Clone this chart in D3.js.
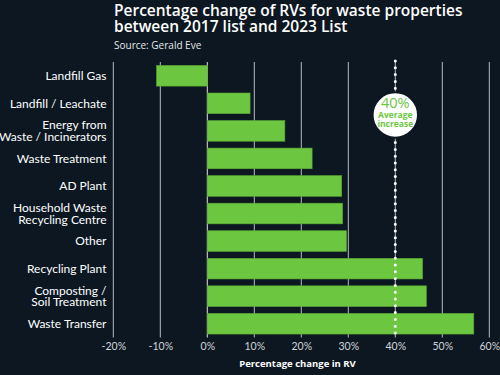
<!DOCTYPE html>
<html><head><meta charset="utf-8">
<script src="https://cdn.jsdelivr.net/npm/d3@7"></script>
<style>html,body{margin:0;padding:0;background:#0c1722;}svg{display:block;}</style>
</head><body>
<svg id="c" width="500" height="375"></svg>
<script>
const categories = [["Landfill Gas"],["Landfill / Leachate"],["Energy from","Waste / Incinerators"],["Waste Treatment"],["AD Plant"],["Household Waste","Recycling Centre"],["Other"],["Recycling Plant"],["Composting /","Soil Treatment"],["Waste Transfer"]];
const values = [-10.8, 9.1, 16.5, 22.3, 28.6, 28.8, 29.6, 45.8, 46.6, 56.7];
const ticks = [-20,-10,0,10,20,30,40,50,60];
const average = 40;

const svg = d3.select("#c");
const bg = "#0c1722", green = "#6cc63f";
svg.append("rect").attr("width",500).attr("height",375).attr("fill",bg);

const x = d3.scaleLinear().domain([-20,60]).range([113.3,489.3]);
const y = d3.scaleBand().domain(d3.range(categories.length)).range([62,337.5]).padding(0.25).paddingOuter(0.125);

// gridlines
svg.append("g").selectAll("line").data(ticks).join("line")
  .attr("x1",d=>x(d)).attr("x2",d=>x(d)).attr("y1",62).attr("y2",337.5)
  .attr("stroke",d=>d===0?"#e0e0e0":"#b8bcc2").attr("stroke-width",1);

// bars
svg.append("g").selectAll("rect").data(values).join("rect")
  .attr("x",d=>x(Math.min(0,d))).attr("width",d=>Math.abs(x(d)-x(0)))
  .attr("y",(d,i)=>y(i)).attr("height",y.bandwidth())
  .attr("fill",green).attr("stroke","#5aa832").attr("stroke-width",0.6);

// axis tick labels
const ax = d3.axisBottom(x).tickValues(ticks).tickFormat(d=>d+"%").tickSize(0).tickPadding(0);
const gx = svg.append("g").attr("transform","translate(0,343)").call(ax);
gx.select(".domain").remove();
gx.selectAll("text").attr("fill","#d2d5d9").attr("font-family","Lato, 'Open Sans', sans-serif").attr("font-size",10.5).attr("dy","0.71em");

svg.append("text").attr("x",297.5).attr("y",366.5).attr("text-anchor","middle")
  .attr("fill","#ffffff").attr("font-family","'Open Sans', sans-serif").attr("font-weight","bold").attr("font-size",9.5)
  .text("Percentage change in RV");

// category labels
const gl = svg.append("g");
categories.forEach((lines,i)=>{
  const cy = y(i)+y.bandwidth()/2;
  const t = gl.append("text").attr("x",106.5).attr("text-anchor","end")
    .attr("fill","#ffffff").attr("font-family","Lato, sans-serif").attr("font-size",12);
  const n = lines.length;
  lines.forEach((l,k)=>{
    t.append("tspan").attr("x",106.5).attr("y",cy + (k-(n-1)/2)*11.7 ).attr("dy","0.35em").text(l);
  });
});

// average dotted line
svg.append("line").attr("x1",x(average)).attr("x2",x(average)).attr("y1",61).attr("y2",338)
  .attr("stroke","#ffffff").attr("stroke-width",3).attr("stroke-linecap","round").attr("stroke-dasharray","0,6.8");

const cx = x(average), ccy = 115;
svg.append("circle").attr("cx",cx).attr("cy",ccy).attr("r",22.7).attr("fill","#ffffff").attr("stroke",bg).attr("stroke-width",2);
svg.append("text").attr("x",cx).attr("y",ccy-7.3).attr("text-anchor","middle").attr("fill",green)
  .attr("font-family","'Open Sans', sans-serif").attr("font-size",14.5).text(average+"%");
svg.append("text").attr("x",cx).attr("y",ccy+3.3).attr("text-anchor","middle").attr("fill",green)
  .attr("font-family","'Open Sans', sans-serif").attr("font-weight","bold").attr("font-size",8.5).text("Average");
svg.append("text").attr("x",cx).attr("y",ccy+11.7).attr("text-anchor","middle").attr("fill",green)
  .attr("font-family","'Open Sans', sans-serif").attr("font-weight","bold").attr("font-size",8.5).text("increase");

// titles
svg.append("text").attr("x",114).attr("y",15.5).attr("fill","#ffffff")
  .attr("font-family","'Open Sans', sans-serif").attr("font-weight",600).attr("font-size",15.5)
  .text("Percentage change of RVs for waste properties");
svg.append("text").attr("x",114).attr("y",32).attr("fill","#ffffff")
  .attr("font-family","'Open Sans', sans-serif").attr("font-weight",600).attr("font-size",15.5)
  .text("between 2017 list and 2023 List");
svg.append("text").attr("x",114).attr("y",48.5).attr("fill","#e6e8ea")
  .attr("font-family","'Open Sans', sans-serif").attr("font-size",10)
  .text("Source: Gerald Eve");
</script>
</body></html>
